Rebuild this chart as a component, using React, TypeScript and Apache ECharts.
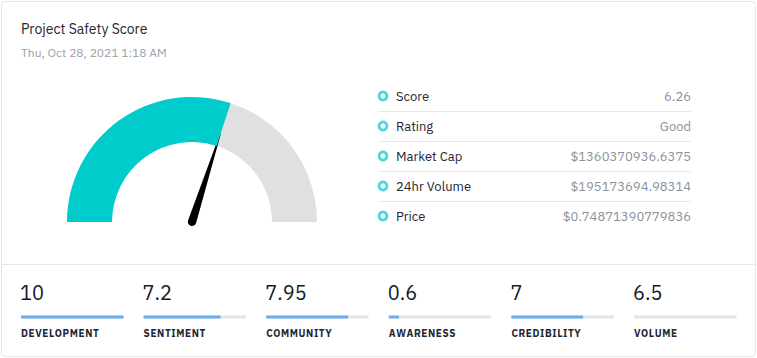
import React, { useEffect, useRef } from "react";
import * as echarts from "echarts";

const TITLE = "Project Safety Score";
const SUBTITLE = "Thu, Oct 28, 2021 1:18 AM";

const gaugeMin = 0;
const gaugeMax = 10;
const gaugeValue = 6.0;

const infoLabels = ["Score", "Rating", "Market Cap", "24hr Volume", "Price"];
const infoValues = ["6.26", "Good", "$1360370936.6375", "$195173694.98314", "$0.74871390779836"];

const metricNames = ["DEVELOPMENT", "SENTIMENT", "COMMUNITY", "AWARENESS", "CREDIBILITY", "VOLUME"];
const metricValues = ["10", "7.2", "7.95", "0.6", "7", "6.5"];
const metricBarFill = [10, 7.5, 8, 1, 7, 0];
const barMax = 10;

const FONT = "'IBM Plex Sans', 'Noto Sans', sans-serif";

export default function App() {
  const ref = useRef<HTMLDivElement>(null);
  useEffect(() => {
    document.body.style.margin = "0";
    const chart = echarts.init(ref.current!, null, { renderer: "svg" });

    const graphics: any[] = [];
    graphics.push({
      type: "rect",
      shape: { x: 1.5, y: 1.5, width: 754, height: 355, r: 4 },
      style: { fill: "#fff", stroke: "#e2e6ee", lineWidth: 1 },
      z: -10,
    });
    graphics.push({
      type: "line",
      shape: { x1: 2, y1: 264.5, x2: 755, y2: 264.5 },
      style: { stroke: "#e2e6ee", lineWidth: 1 },
    });
    infoLabels.forEach((lab, i) => {
      const cy = 96 + i * 30;
      graphics.push({
        type: "circle",
        shape: { cx: 383, cy, r: 4 },
        style: { fill: "#fff", stroke: "#4dd7da", lineWidth: 2.8 },
      });
      graphics.push({
        type: "text",
        x: 396,
        y: cy,
        style: { text: lab, font: `13px ${FONT}`, fill: "#1d2735", verticalAlign: "middle" },
      });
      graphics.push({
        type: "text",
        x: 691,
        y: cy,
        style: { text: infoValues[i], font: `13px ${FONT}`, fill: "#8a919e", align: "right", verticalAlign: "middle" },
      });
      if (i < infoLabels.length - 1) {
        graphics.push({
          type: "line",
          shape: { x1: 378, y1: cy + 15.5, x2: 691, y2: cy + 15.5 },
          style: { stroke: "#e6e8f0", lineWidth: 1 },
        });
      }
    });

    const step = 122.6;
    const grids: any[] = [];
    const xAxes: any[] = [];
    const yAxes: any[] = [];
    const series: any[] = [];
    metricNames.forEach((name, i) => {
      const left = 21 + i * step;
      graphics.push({
        type: "text",
        x: left - 1,
        y: 292,
        style: { text: metricValues[i], font: `20px ${FONT}`, fill: "#111a2b", verticalAlign: "middle" },
      });
      graphics.push({
        type: "text",
        x: left,
        y: 333,
        style: { text: name.split("").join("\u200A"), font: `bold 10px ${FONT}`, fill: "#1d2735", verticalAlign: "middle" },
      });
      grids.push({ left, top: 315.5, width: 102.5, height: 3 });
      xAxes.push({ type: "value", gridIndex: i, min: 0, max: barMax, show: false });
      yAxes.push({ type: "category", gridIndex: i, data: [name], show: false });
      series.push({
        type: "bar",
        xAxisIndex: i,
        yAxisIndex: i,
        data: [metricBarFill[i]],
        barWidth: 3,
        showBackground: true,
        backgroundStyle: { color: "#e3e6eb" },
        itemStyle: { color: "#6aaef0" },
        silent: true,
      });
    });

    series.push({
      type: "gauge",
      center: [192, 222],
      radius: 125,
      startAngle: 180,
      endAngle: 0,
      min: gaugeMin,
      max: gaugeMax,
      progress: { show: true, width: 45, itemStyle: { color: "#00cdcb" } },
      axisLine: { lineStyle: { width: 45, color: [[1, "#e0e0e0"]] } },
      axisTick: { show: false },
      splitLine: { show: false },
      axisLabel: { show: false },
      anchor: { show: false },
      title: { show: false },
      detail: { show: false },
      pointer: {
        show: true,
        icon: "path://M3.5,0 L4.5,0 L8.5,92 A4.25,4.25 0 0 1 0,92 Z",
        width: 8.5,
        length: 96,
        offsetCenter: [0, 4],
        itemStyle: { color: "#000" },
      },
      data: [{ value: gaugeValue }],
      z: 5,
    });

    chart.setOption({
      animation: false,
      title: {
        text: TITLE,
        subtext: SUBTITLE,
        left: 16,
        top: 17,
        itemGap: 10,
        textStyle: { fontFamily: FONT, fontSize: 14, fontWeight: "normal", color: "#1d2735" },
        subtextStyle: { fontFamily: FONT, fontSize: 12, color: "#9aa0ab" },
      },
      grid: grids,
      xAxis: xAxes,
      yAxis: yAxes,
      series,
      graphic: graphics,
    });
    return () => chart.dispose();
  }, []);
  return <div ref={ref} style={{ width: 757, height: 358 }} />;
}
